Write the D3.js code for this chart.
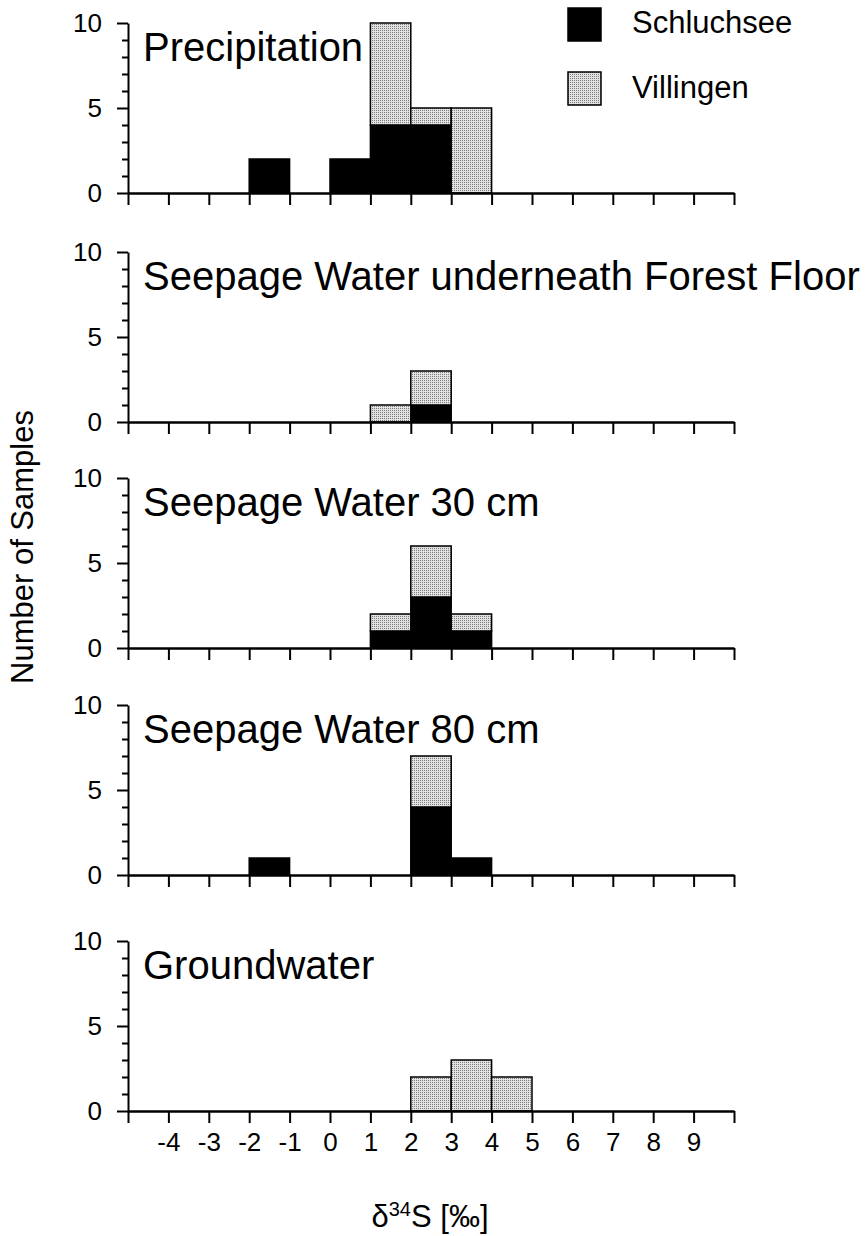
<!DOCTYPE html>
<html>
<head>
<meta charset="utf-8">
<script src="https://cdn.jsdelivr.net/npm/d3@7"></script>
<style>
  body { margin: 0; background: #fff; }
  svg { display: block; font-family: "Liberation Sans", Arial, Helvetica, sans-serif; }
</style>
</head>
<body>
<div id="chart"></div>
<script>
// --- Data (bin lower edges, counts per bin) ---
const bins = [-5, -4, -3, -2, -1, 0, 1, 2, 3, 4, 5, 6, 7, 8, 9];
const xTickLabels = [-4, -3, -2, -1, 0, 1, 2, 3, 4, 5, 6, 7, 8, 9];
const panelTitles = ["Precipitation", "Seepage Water underneath Forest Floor",
                     "Seepage Water 30 cm", "Seepage Water 80 cm", "Groundwater"];
const seriesNames = ["Schluchsee", "Villingen"];

const precipSchluchsee  = [0, 0, 0, 2, 0, 2, 4, 4, 0, 0, 0, 0, 0, 0, 0];
const precipVillingen   = [0, 0, 0, 0, 0, 0, 6, 1, 5, 0, 0, 0, 0, 0, 0];
const floorSchluchsee   = [0, 0, 0, 0, 0, 0, 0, 1, 0, 0, 0, 0, 0, 0, 0];
const floorVillingen    = [0, 0, 0, 0, 0, 0, 1, 2, 0, 0, 0, 0, 0, 0, 0];
const cm30Schluchsee    = [0, 0, 0, 0, 0, 0, 1, 3, 1, 0, 0, 0, 0, 0, 0];
const cm30Villingen     = [0, 0, 0, 0, 0, 0, 1, 3, 1, 0, 0, 0, 0, 0, 0];
const cm80Schluchsee    = [0, 0, 0, 1, 0, 0, 0, 4, 1, 0, 0, 0, 0, 0, 0];
const cm80Villingen     = [0, 0, 0, 0, 0, 0, 0, 3, 0, 0, 0, 0, 0, 0, 0];
const groundSchluchsee  = [0, 0, 0, 0, 0, 0, 0, 0, 0, 0, 0, 0, 0, 0, 0];
const groundVillingen   = [0, 0, 0, 0, 0, 0, 0, 2, 3, 2, 0, 0, 0, 0, 0];

const panelSeries = [
  [precipSchluchsee, precipVillingen],
  [floorSchluchsee, floorVillingen],
  [cm30Schluchsee, cm30Villingen],
  [cm80Schluchsee, cm80Villingen],
  [groundSchluchsee, groundVillingen]
];

// --- Layout ---
const W = 867, H = 1236;
const panelBase = [193, 422, 648, 875, 1111];   // y of zero line per panel
const panelH = 170;

const svg = d3.select("#chart").append("svg")
  .attr("width", W).attr("height", H);

// stippled fill for Villingen
const pat = svg.append("defs").append("pattern")
  .attr("id", "stipple").attr("patternUnits", "userSpaceOnUse")
  .attr("width", 2).attr("height", 2);
pat.append("rect").attr("width", 2).attr("height", 2).attr("fill", "#e2e2e2");
pat.append("rect").attr("width", 1).attr("height", 1).attr("fill", "#7a7a7a");

const x = d3.scaleLinear().domain([-5, 10]).range([128, 734]);
const fills = ["#000", "url(#stipple)"];

panelSeries.forEach((series, p) => {
  const y = d3.scaleLinear().domain([0, 10]).range([panelBase[p], panelBase[p] - panelH]);
  const g = svg.append("g");

  // bars (Villingen stacked on Schluchsee)
  const rows = bins.map((b, i) => ({ bin: b, Schluchsee: series[0][i], Villingen: series[1][i] }));
  const stacked = d3.stack().keys(seriesNames)(rows);
  stacked.forEach((layer, k) => {
    g.append("g").selectAll("rect")
      .data(layer.filter(d => d[1] > d[0]))
      .join("rect")
      .attr("x", d => x(d.data.bin))
      .attr("width", d => x(d.data.bin + 1) - x(d.data.bin))
      .attr("y", d => y(d[1]))
      .attr("height", d => y(d[0]) - y(d[1]))
      .attr("fill", fills[k])
      .attr("stroke", "#000")
      .attr("stroke-width", 1.5);
  });

  // y axis
  const yAxis = g.append("g")
    .attr("transform", `translate(${x(-5)},0)`)
    .call(d3.axisLeft(y).tickValues(d3.range(0, 11)).tickSize(6).tickSizeOuter(0)
      .tickPadding(20).tickFormat(d => d % 5 === 0 ? d : ""));
  yAxis.selectAll(".tick line").attr("x2", d => d % 5 === 0 ? -11 : -6).attr("stroke-width", 2);
  yAxis.select(".domain").attr("stroke-width", 2);
  yAxis.selectAll("text").attr("font-size", 26).attr("font-family", null).attr("fill", "#000");

  // x axis
  const last = p === panelSeries.length - 1;
  const xAxis = g.append("g")
    .attr("transform", `translate(0,${panelBase[p]})`)
    .call(d3.axisBottom(x).tickValues(d3.range(-5, 11)).tickSize(12).tickSizeOuter(0)
      .tickPadding(10).tickFormat(d => last && xTickLabels.includes(d) ? d : ""));
  xAxis.selectAll(".tick line").attr("stroke-width", 2);
  xAxis.select(".domain").attr("stroke-width", 2.5);
  xAxis.selectAll("text").attr("font-size", 26).attr("font-family", null).attr("fill", "#000");

  // panel title
  g.append("text")
    .attr("x", 143).attr("y", y(10) + 38)
    .attr("font-size", 40)
    .text(panelTitles[p]);
});

// legend
const legend = svg.append("g");
[[8, 33], [72, 98]].forEach(([top, base], k) => {
  legend.append("rect").attr("x", 568).attr("y", top).attr("width", 33).attr("height", 33)
    .attr("fill", fills[k]).attr("stroke", "#000").attr("stroke-width", 1.5);
  legend.append("text").attr("x", 632).attr("y", base).attr("font-size", 31).text(seriesNames[k]);
});

// axis titles
svg.append("text")
  .attr("transform", "translate(33,547) rotate(-90)")
  .attr("text-anchor", "middle").attr("font-size", 31)
  .text("Number of Samples");

const xl = svg.append("text")
  .attr("x", 430).attr("y", 1227)
  .attr("text-anchor", "middle").attr("font-size", 31);
xl.append("tspan").text("δ");
xl.append("tspan").attr("font-size", 20).attr("dy", -11).text("34");
xl.append("tspan").attr("dy", 11).text("S [‰]");
</script>
</body>
</html>
